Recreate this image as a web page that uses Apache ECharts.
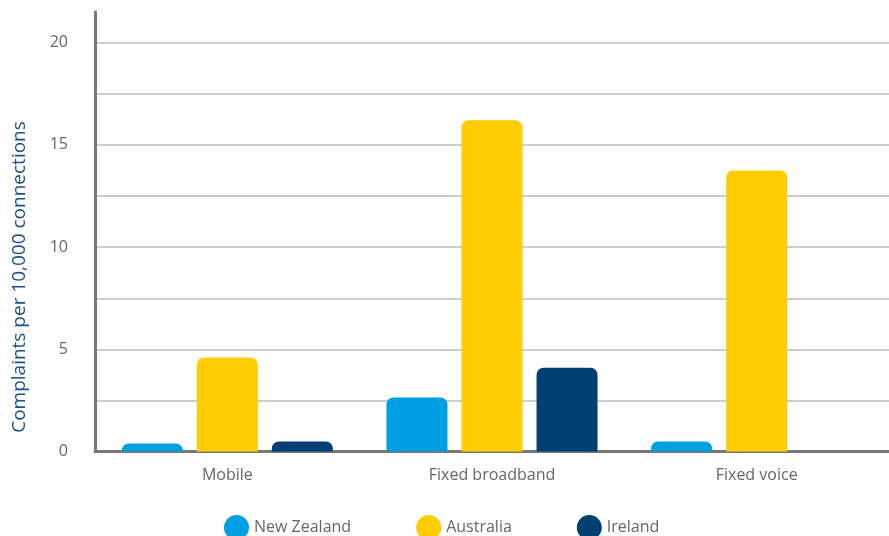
<!DOCTYPE html>
<html>
<head>
<meta charset="utf-8">
<script src="https://cdn.jsdelivr.net/npm/echarts@6/dist/echarts.min.js"></script>
<style>
html,body{margin:0;padding:0;background:#fff;}
#chart{width:889px;height:536px;}
</style>
</head>
<body>
<div id="chart"></div>
<script>
var categories = ['Mobile', 'Fixed broadband', 'Fixed voice'];
var newZealand = [0.4, 2.65, 0.5];
var australia = [4.6, 16.2, 13.75];
var ireland = [0.5, 4.1, null];
var seriesNames = ['New Zealand', 'Australia', 'Ireland'];
var yLabels = [0, 5, 10, 15, 20];
var yTitle = 'Complaints per 10,000 connections';

var colors = ['#009fe3', '#ffcd00', '#003f72'];
var font = '"Open Sans", "Noto Sans", sans-serif';

var chart = echarts.init(document.getElementById('chart'), null, {renderer: 'canvas'});
function bar(name, data, color) {
  return {
    name: name, type: 'bar', data: data,
    barWidth: 61, barGap: '23%',
    itemStyle: {color: color, borderRadius: [7, 7, 0, 0]}
  };
}
chart.setOption({
  animation: false,
  textStyle: {fontFamily: font},
  grid: {left: 95, right: 0, top: 12, bottom: 84.4},
  legend: {
    left: 219, top: 510,
    icon: 'circle', itemWidth: 25, itemHeight: 25, itemGap: 65,
    textStyle: {fontSize: 16, color: '#666', fontFamily: font},
    data: seriesNames
  },
  xAxis: {
    type: 'category', data: categories,
    axisLine: {lineStyle: {color: '#777', width: 3}},
    axisTick: {show: false},
    axisLabel: {color: '#666', fontSize: 16, margin: 16, fontFamily: font}
  },
  yAxis: {
    type: 'value', min: 0, max: 21.5, interval: 2.5,
    axisLine: {show: true, lineStyle: {color: '#777', width: 3}},
    axisTick: {show: false},
    splitLine: {showMaxLine: false, showMinLine: false, lineStyle: {color: '#bdbdbd', width: 1.5}},
    axisLabel: {
      color: '#666', fontSize: 16, margin: 27, fontFamily: font,
      formatter: function (v) { return yLabels.indexOf(v) >= 0 ? String(v) : ''; }
    }
  },
  graphic: [{
    type: 'text', x: 20, y: 277, rotation: Math.PI / 2,
    style: {text: yTitle, fill: '#1a4f8c', fontSize: 19, fontFamily: font, align: 'center', verticalAlign: 'middle'}
  }],
  series: [
    bar(seriesNames[0], newZealand, colors[0]),
    bar(seriesNames[1], australia, colors[1]),
    bar(seriesNames[2], ireland, colors[2])
  ]
});
</script>
</body>
</html>
